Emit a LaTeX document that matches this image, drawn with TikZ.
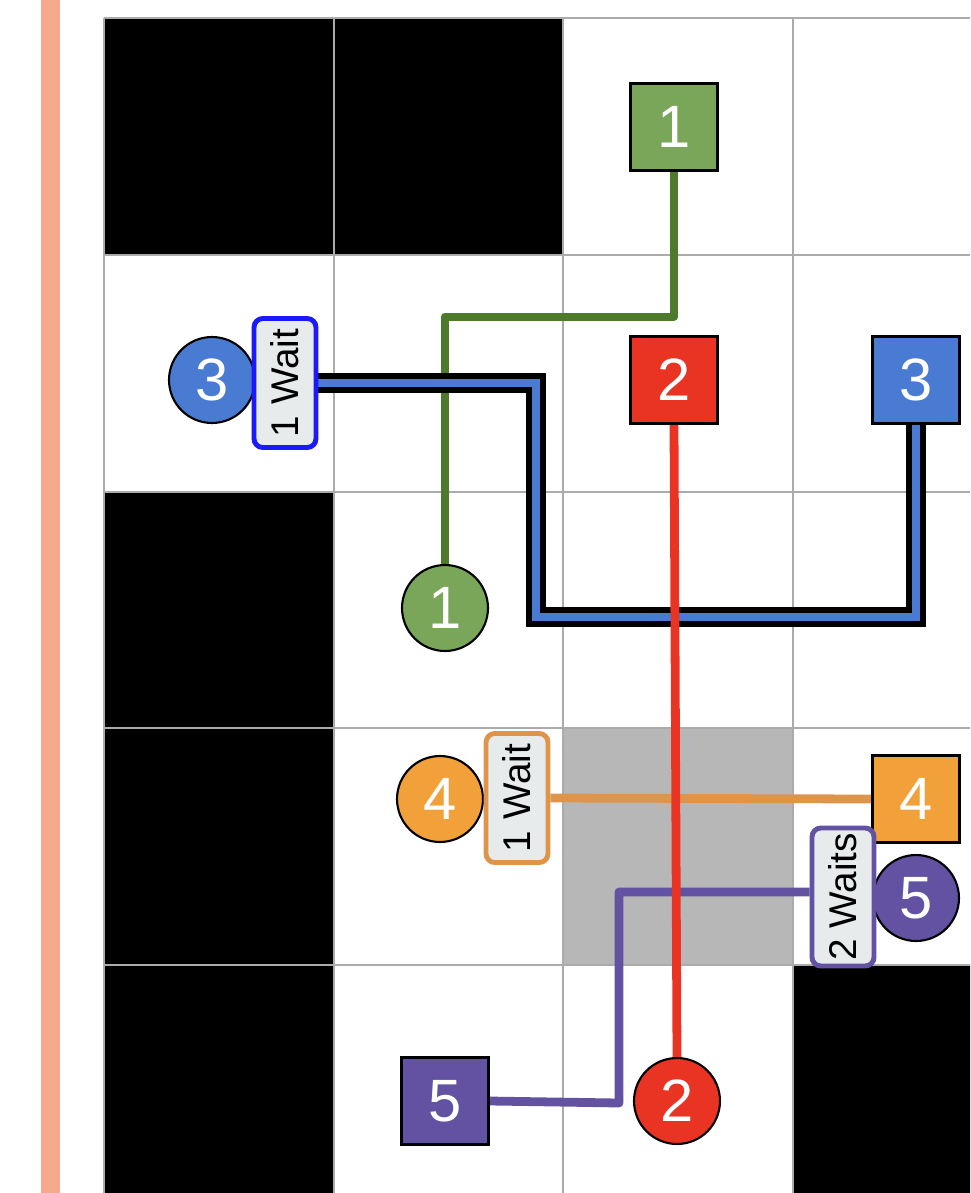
\documentclass[tikz,border=0pt]{standalone}
\usepackage{fontspec}
\setmainfont{Liberation Sans}
\usetikzlibrary{positioning, calc}

\definecolor{sidebar}{HTML}{F7A98D}
\definecolor{gridgray}{HTML}{ABABAB}
\definecolor{cellgray}{HTML}{B7B7B7}
\definecolor{labelgray}{HTML}{E8EBEC}
\definecolor{agreen}{HTML}{7AA65A}
\definecolor{routegreen}{HTML}{4E7A2C}
\definecolor{ared}{HTML}{E93424}
\definecolor{ablue}{HTML}{4A7BD3}
\definecolor{waitblue}{HTML}{1A1AFA}
\definecolor{aorange}{HTML}{F2A13A}
\definecolor{routeorange}{HTML}{DF9549}
\definecolor{apurple}{HTML}{6352A2}

\pgfdeclarelayer{gridlayer}
\pgfdeclarelayer{routelayer}
\pgfsetlayers{gridlayer,routelayer,main}

\tikzset{
  gridline/.style={gridgray, line width=1.2pt},
  goal/.style={draw=black, line width=1.2pt, minimum size=1.74cm, inner sep=0pt,
    text=white, font=\fontsize{34}{34}\selectfont},
  start/.style={circle, draw=black, line width=1.2pt, minimum size=1.72cm, inner sep=0pt,
    text=white, font=\fontsize{34}{34}\selectfont},
  waitbox/.style={draw, rounded corners=5pt, line width=2.8pt, fill=labelgray, rotate=90,
    minimum width=2.58cm, minimum height=1.24cm, inner sep=0pt,
    font=\fontsize{22}{22}\selectfont},
  route/.style={line width=5pt, line join=round}
}

\begin{document}
\begin{tikzpicture}[x=0.02cm, y=-0.02cm]
    \useasboundingbox (0,0) rectangle (970,1193);

    \begin{pgfonlayer}{gridlayer}
        \clip (0,0) rectangle (970,1193);
        % Side bar
        \fill[sidebar] (41,0) rectangle (60,1193);
        % Blocked and shaded cells
        \foreach \c/\r in {0/0, 1/0, 0/2, 0/3, 0/4, 3/4}
            \fill[black] (104+229.7*\c, 18+236.8*\r) rectangle ++(229.7,236.8);
        \fill[cellgray] (104+229.7*2, 18+236.8*3) rectangle ++(229.7,236.8);
        % Grid
        \foreach \c in {0,...,4}
            \draw[gridline] (104+229.7*\c,18) -- (104+229.7*\c,1193);
        \foreach \r in {0,...,5}
            \draw[gridline] (104,18+236.8*\r) -- (970,18+236.8*\r);
    \end{pgfonlayer}

    % Goals
    \node[goal, fill=agreen] (g1) at (674,127) {1};
    \node[goal, fill=ared] (g2) at (674,380) {2};
    \node[goal, fill=ablue] (g3) at (916,380) {3};
    \node[goal, fill=aorange] (g4) at (916,799) {4};
    \node[goal, fill=apurple] (g5) at (445,1101) {5};

    % Starts
    \node[start, fill=ablue] (s3) at (212,380) {3};
    \node[start, fill=agreen] (s1) at (445,608) {1};
    \node[start, fill=aorange] (s4) at (440,799) {4};
    \node[start, fill=apurple] (s5) at (916,898) {5};
    \node[start, fill=ared] (s2) at (677,1101) {2};

    % Wait labels (rotated: south is the right side)
    \node[waitbox, draw=waitblue] (w3) at (285,383) {1 Wait};
    \node[waitbox, draw=routeorange] (w4) at (517,798) {1 Wait};
    \node[waitbox, draw=apurple, minimum width=2.76cm] (w5) at (843,897) {2 Waits};

    % Routes
    \begin{pgfonlayer}{routelayer}
        \draw[route, routegreen, line width=4.5pt] (g1.south) -- ++(0,145) -| (s1.north);
        \draw[line width=11pt, black, line join=miter] (w3.south) -| (536,617) -| (g3.south);
        \draw[line width=5pt, ablue, line join=miter] (w3.south) -| (536,617) -| (g3.south);
        \draw[route, routeorange] (w4.south) -- (g4.west);
        \draw[route, apurple] (w5.north) ++(0,-5) -| (619,1103) -- (g5.east);
        \draw[route, ared] (g2.south) -- (s2.north);
    \end{pgfonlayer}
\end{tikzpicture}
\end{document}
